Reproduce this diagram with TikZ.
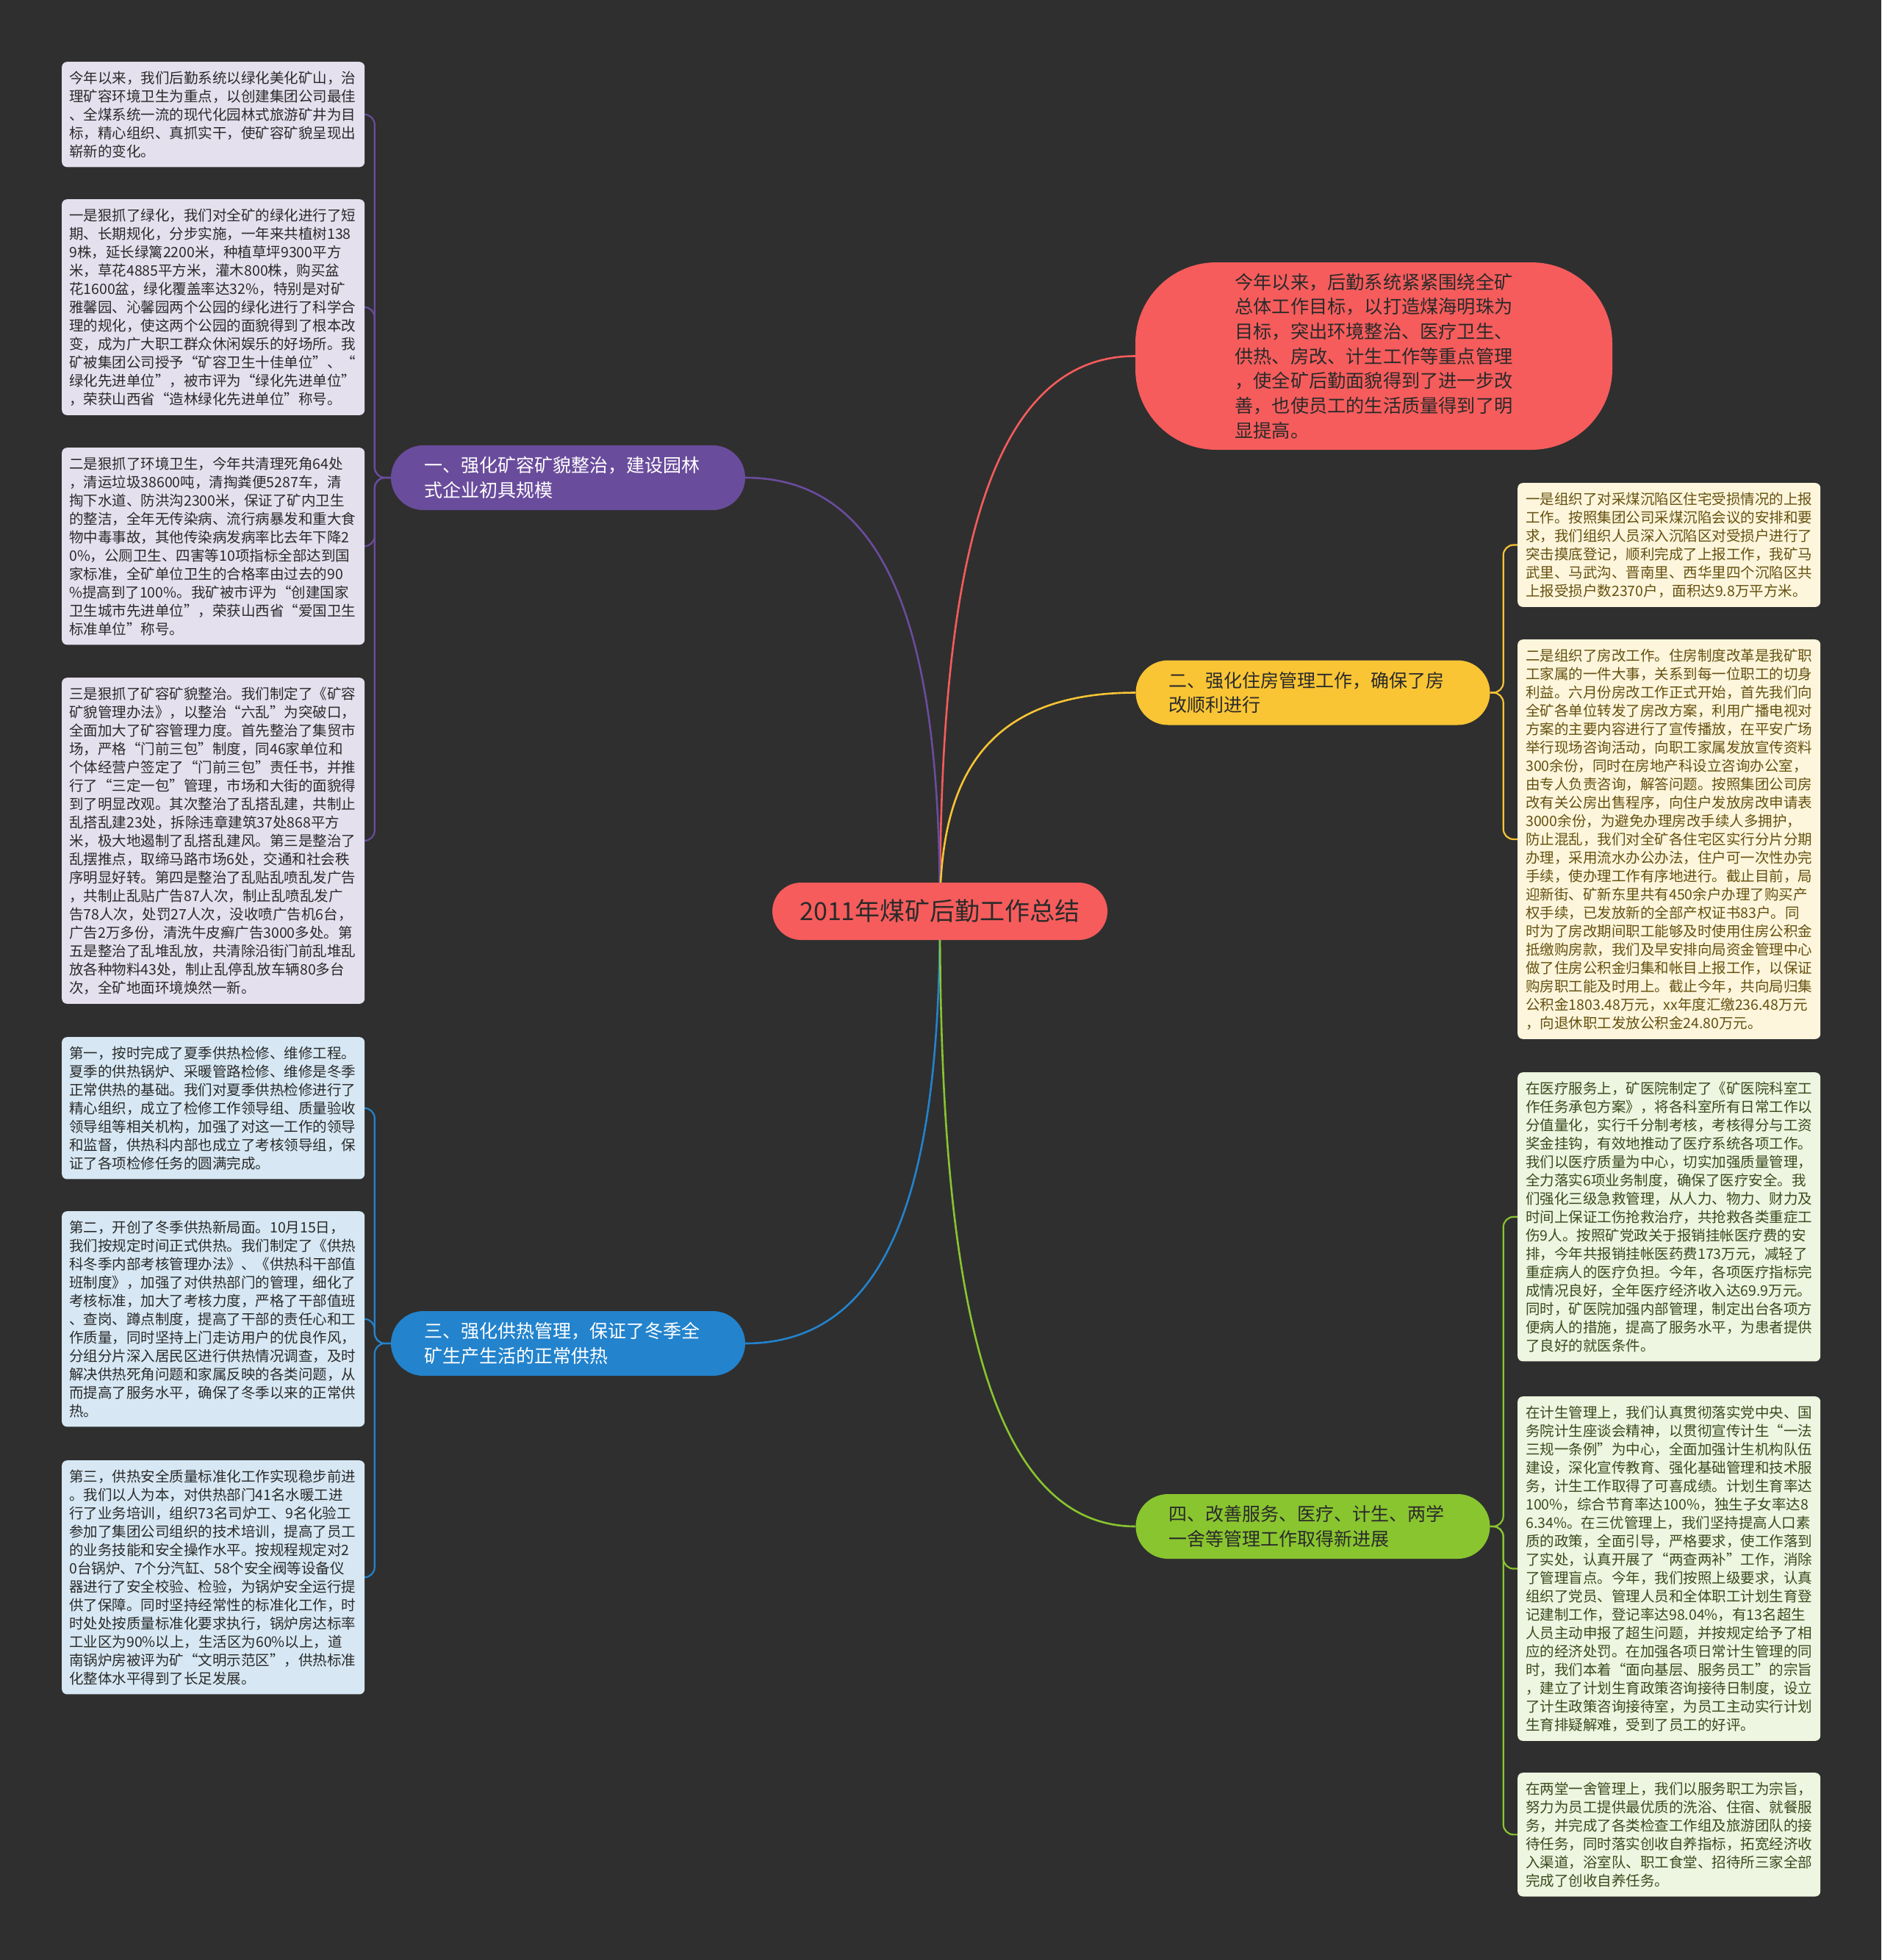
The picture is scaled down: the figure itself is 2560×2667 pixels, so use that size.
\documentclass[tikz,border=0pt]{standalone}
\usepackage{fontspec}
\setmainfont{Noto Sans CJK SC}
\usetikzlibrary{calc,backgrounds}
\definecolor{bgc}{HTML}{2F2F2F}
\definecolor{redc}{HTML}{F65C5C}
\definecolor{purc}{HTML}{6A4C9C}
\definecolor{yelc}{HTML}{F9C535}
\definecolor{bluc}{HTML}{2383CD}
\definecolor{grnc}{HTML}{89C52F}
\definecolor{purleaf}{HTML}{E5E0EE}
\definecolor{bluleaf}{HTML}{D7E8F4}
\definecolor{yelleaf}{HTML}{FDF6DC}
\definecolor{grnleaf}{HTML}{EEF5E0}
\definecolor{yeltext}{HTML}{65500F}
\definecolor{grntext}{HTML}{3A4A1E}
\definecolor{darktext}{HTML}{2A2A2A}
\tikzset{
  leaf/.style={anchor=north west, rounded corners=7pt, text width=392pt, inner xsep=10pt, inner ysep=12.5pt, align=left, font=\fontsize{19.5pt}{25pt}\selectfont},
  rleaf/.style={leaf, text width=390pt, inner xsep=11pt},
  branch/.style={rounded corners=44pt, minimum width=482pt, minimum height=88pt, text width=392pt, inner sep=0pt, align=left, font=\fontsize{25pt}{33.5pt}\selectfont},
  conn/.style={line width=2.6pt},
  lconn/.style={line width=2.2pt, rounded corners=14pt},
}
\newcommand{\rootlink}[2]{%
  \draw[conn, #2] (c.center) .. controls ($(c.center)!0.55!(c.center |- #1)$) and ($(c.center |- #1)!0.18!(#1)$) .. (#1);}
\begin{document}
\begin{tikzpicture}[x=1pt,y=-1pt]
\useasboundingbox (0,0) rectangle (2560,2667);

% root
\node[fill=redc, rounded corners=39pt, minimum width=456pt, minimum height=78pt, inner sep=0pt, text=darktext, font=\fontsize{34pt}{40pt}\selectfont] (c) at (1279,1240) {2011年煤矿后勤工作总结};

% top right summary
\node[fill=redc, rounded corners=110pt, minimum width=649pt, minimum height=255pt, text width=378pt, inner sep=0pt, align=left, text=darktext, font=\fontsize{25.2pt}{33.7pt}\selectfont] (tr) at (1869.5,484.5) {今年以来，后勤系统紧紧围绕全矿\\总体工作目标，以打造煤海明珠为\\目标，突出环境整治、医疗卫生、\\供热、房改、计生工作等重点管理\\，使全矿后勤面貌得到了进一步改\\善，也使员工的生活质量得到了明\\显提高。};

% branches
\node[branch, fill=purc, text=white] (b1) at (773,650) {一、强化矿容矿貌整治，建设园林\\式企业初具规模};
\node[branch, fill=yelc, text=darktext] (b2) at (1786.5,942.5) {二、强化住房管理工作，确保了房\\改顺利进行};
\node[branch, fill=bluc, text=white] (b3) at (773,1828) {三、强化供热管理，保证了冬季全\\矿生产生活的正常供热};
\node[branch, fill=grnc, text=darktext] (b4) at (1786.5,2077) {四、改善服务、医疗、计生、两学\\一舍等管理工作取得新进展};

% left purple leaves
\node[leaf, fill=purleaf, text=darktext] (l1) at (84,84) {今年以来，我们后勤系统以绿化美化矿山，治\\理矿容环境卫生为重点，以创建集团公司最佳\\、全煤系统一流的现代化园林式旅游矿井为目\\标，精心组织、真抓实干，使矿容矿貌呈现出\\崭新的变化。};
\node[leaf, fill=purleaf, text=darktext] (l2) at (84,271) {一是狠抓了绿化，我们对全矿的绿化进行了短\\期、长期规化，分步实施，一年来共植树138\\9株，延长绿篱2200米，种植草坪9300平方\\米，草花4885平方米，灌木800株，购买盆\\花1600盆，绿化覆盖率达32\%，特别是对矿\\雅馨园、沁馨园两个公园的绿化进行了科学合\\理的规化，使这两个公园的面貌得到了根本改\\变，成为广大职工群众休闲娱乐的好场所。我\\矿被集团公司授予“矿容卫生十佳单位”、“\\绿化先进单位”，被市评为“绿化先进单位”\\，荣获山西省“造林绿化先进单位”称号。};
\node[leaf, fill=purleaf, text=darktext] (l3) at (84,609) {二是狠抓了环境卫生，今年共清理死角64处\\，清运垃圾38600吨，清掏粪便5287车，清\\掏下水道、防洪沟2300米，保证了矿内卫生\\的整洁，全年无传染病、流行病暴发和重大食\\物中毒事故，其他传染病发病率比去年下降2\\0\%，公厕卫生、四害等10项指标全部达到国\\家标准，全矿单位卫生的合格率由过去的90\\\%提高到了100\%。我矿被市评为“创建国家\\卫生城市先进单位”，荣获山西省“爱国卫生\\标准单位”称号。};
\node[leaf, fill=purleaf, text=darktext] (l4) at (84,922) {三是狠抓了矿容矿貌整治。我们制定了《矿容\\矿貌管理办法》，以整治“六乱”为突破口，\\全面加大了矿容管理力度。首先整治了集贸市\\场，严格“门前三包”制度，同46家单位和\\个体经营户签定了“门前三包”责任书，并推\\行了“三定一包”管理，市场和大街的面貌得\\到了明显改观。其次整治了乱搭乱建，共制止\\乱搭乱建23处，拆除违章建筑37处868平方\\米，极大地遏制了乱搭乱建风。第三是整治了\\乱摆推点，取缔马路市场6处，交通和社会秩\\序明显好转。第四是整治了乱贴乱喷乱发广告\\，共制止乱贴广告87人次，制止乱喷乱发广\\告78人次，处罚27人次，没收喷广告机6台，\\广告2万多份，清洗牛皮癣广告3000多处。第\\五是整治了乱堆乱放，共清除沿街门前乱堆乱\\放各种物料43处，制止乱停乱放车辆80多台\\次，全矿地面环境焕然一新。};

% left blue leaves
\node[leaf, fill=bluleaf, text=darktext] (l5) at (84,1411) {第一，按时完成了夏季供热检修、维修工程。\\夏季的供热锅炉、采暖管路检修、维修是冬季\\正常供热的基础。我们对夏季供热检修进行了\\精心组织，成立了检修工作领导组、质量验收\\领导组等相关机构，加强了对这一工作的领导\\和监督，供热科内部也成立了考核领导组，保\\证了各项检修任务的圆满完成。};
\node[leaf, fill=bluleaf, text=darktext] (l6) at (84,1648) {第二，开创了冬季供热新局面。10月15日，\\我们按规定时间正式供热。我们制定了《供热\\科冬季内部考核管理办法》、《供热科干部值\\班制度》，加强了对供热部门的管理，细化了\\考核标准，加大了考核力度，严格了干部值班\\、查岗、蹲点制度，提高了干部的责任心和工\\作质量，同时坚持上门走访用户的优良作风，\\分组分片深入居民区进行供热情况调查，及时\\解决供热死角问题和家属反映的各类问题，从\\而提高了服务水平，确保了冬季以来的正常供\\热。};
\node[leaf, fill=bluleaf, text=darktext] (l7) at (84,1987) {第三，供热安全质量标准化工作实现稳步前进\\。我们以人为本，对供热部门41名水暖工进\\行了业务培训，组织73名司炉工、9名化验工\\参加了集团公司组织的技术培训，提高了员工\\的业务技能和安全操作水平。按规程规定对2\\0台锅炉、7个分汽缸、58个安全阀等设备仪\\器进行了安全校验、检验，为锅炉安全运行提\\供了保障。同时坚持经常性的标准化工作，时\\时处处按质量标准化要求执行，锅炉房达标率\\工业区为90\%以上，生活区为60\%以上，道\\南锅炉房被评为矿“文明示范区”，供热标准\\化整体水平得到了长足发展。};

% right yellow leaves
\node[rleaf, fill=yelleaf, text=yeltext] (r1) at (2065,657) {一是组织了对采煤沉陷区住宅受损情况的上报\\工作。按照集团公司采煤沉陷会议的安排和要\\求，我们组织人员深入沉陷区对受损户进行了\\突击摸底登记，顺利完成了上报工作，我矿马\\武里、马武沟、晋南里、西华里四个沉陷区共\\上报受损户数2370户，面积达9.8万平方米。};
\node[rleaf, fill=yelleaf, text=yeltext] (r2) at (2065,870) {二是组织了房改工作。住房制度改革是我矿职\\工家属的一件大事，关系到每一位职工的切身\\利益。六月份房改工作正式开始，首先我们向\\全矿各单位转发了房改方案，利用广播电视对\\方案的主要内容进行了宣传播放，在平安广场\\举行现场咨询活动，向职工家属发放宣传资料\\300余份，同时在房地产科设立咨询办公室，\\由专人负责咨询，解答问题。按照集团公司房\\改有关公房出售程序，向住户发放房改申请表\\3000余份，为避免办理房改手续人多拥护，\\防止混乱，我们对全矿各住宅区实行分片分期\\办理，采用流水办公办法，住户可一次性办完\\手续，使办理工作有序地进行。截止目前，局\\迎新街、矿新东里共有450余户办理了购买产\\权手续，已发放新的全部产权证书83户。同\\时为了房改期间职工能够及时使用住房公积金\\抵缴购房款，我们及早安排向局资金管理中心\\做了住房公积金归集和帐目上报工作，以保证\\购房职工能及时用上。截止今年，共向局归集\\公积金1803.48万元，xx年度汇缴236.48万元\\，向退休职工发放公积金24.80万元。};

% right green leaves
\node[rleaf, fill=grnleaf, text=grntext] (r3) at (2065,1459) {在医疗服务上，矿医院制定了《矿医院科室工\\作任务承包方案》，将各科室所有日常工作以\\分值量化，实行千分制考核，考核得分与工资\\奖金挂钩，有效地推动了医疗系统各项工作。\\我们以医疗质量为中心，切实加强质量管理，\\全力落实6项业务制度，确保了医疗安全。我\\们强化三级急救管理，从人力、物力、财力及\\时间上保证工伤抢救治疗，共抢救各类重症工\\伤9人。按照矿党政关于报销挂帐医疗费的安\\排，今年共报销挂帐医药费173万元，减轻了\\重症病人的医疗负担。今年，各项医疗指标完\\成情况良好，全年医疗经济收入达69.9万元。\\同时，矿医院加强内部管理，制定出台各项方\\便病人的措施，提高了服务水平，为患者提供\\了良好的就医条件。};
\node[rleaf, fill=grnleaf, text=grntext] (r4) at (2065,1900) {在计生管理上，我们认真贯彻落实党中央、国\\务院计生座谈会精神，以贯彻宣传计生“一法\\三规一条例”为中心，全面加强计生机构队伍\\建设，深化宣传教育、强化基础管理和技术服\\务，计生工作取得了可喜成绩。计划生育率达\\100\%，综合节育率达100\%，独生子女率达8\\6.34\%。在三优管理上，我们坚持提高人口素\\质的政策，全面引导，严格要求，使工作落到\\了实处，认真开展了“两查两补”工作，消除\\了管理盲点。今年，我们按照上级要求，认真\\组织了党员、管理人员和全体职工计划生育登\\记建制工作，登记率达98.04\%，有13名超生\\人员主动申报了超生问题，并按规定给予了相\\应的经济处罚。在加强各项日常计生管理的同\\时，我们本着“面向基层、服务员工”的宗旨\\，建立了计划生育政策咨询接待日制度，设立\\了计生政策咨询接待室，为员工主动实行计划\\生育排疑解难，受到了员工的好评。};
\node[rleaf, fill=grnleaf, text=grntext] (r5) at (2065,2412) {在两堂一舍管理上，我们以服务职工为宗旨，\\努力为员工提供最优质的洗浴、住宿、就餐服\\务，并完成了各类检查工作组及旅游团队的接\\待任务，同时落实创收自养指标，拓宽经济收\\入渠道，浴室队、职工食堂、招待所三家全部\\完成了创收自养任务。};

\begin{pgfonlayer}{background}
\fill[bgc] (0,0) rectangle (2560,2667);
% root connectors
\rootlink{tr.west}{redc}
\rootlink{b1.east}{purc}
\rootlink{b2.west}{yelc}
\rootlink{b3.east}{bluc}
\rootlink{b4.west}{grnc}
% leaf connectors
\foreach \l in {l1,l2,l3,l4}{\draw[lconn, purc] (b1.west) -- ($(b1.west)+(-22,0)$) |- (\l.east);}
\foreach \l in {l5,l6,l7}{\draw[lconn, bluc] (b3.west) -- ($(b3.west)+(-22,0)$) |- (\l.east);}
\foreach \l in {r1,r2}{\draw[lconn, yelc] (b2.east) -- ($(b2.east)+(18,0)$) |- (\l.west);}
\foreach \l in {r3,r4,r5}{\draw[lconn, grnc] (b4.east) -- ($(b4.east)+(18,0)$) |- (\l.west);}
\end{pgfonlayer}
\end{tikzpicture}
\end{document}
